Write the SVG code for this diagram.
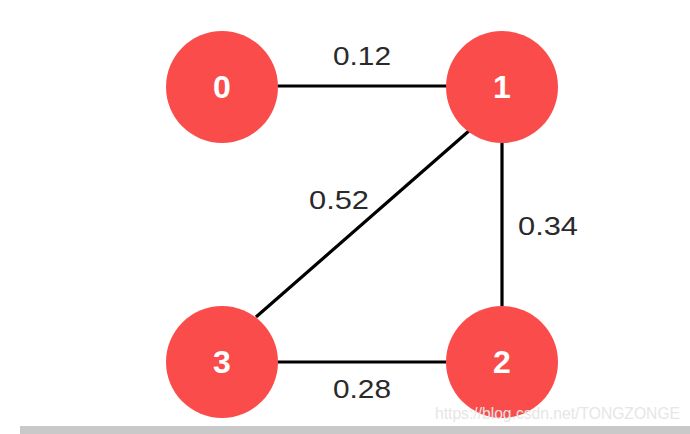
<svg xmlns="http://www.w3.org/2000/svg" width="690" height="434" viewBox="0 0 690 434">
<style>
.node{fill:#fb4c4c}
.nl{font-family:"Liberation Sans",Arial,sans-serif;font-weight:bold;font-size:32px;fill:#fff;text-anchor:middle}
.el{font-family:"Liberation Sans",Arial,sans-serif;font-size:26px;fill:#2a2a2a;text-anchor:middle}
.edge{stroke:#000;stroke-width:3.2;fill:none}
</style>
<rect width="690" height="434" fill="#fff"/>
<g id="connectors">
<line class="edge" x1="270" y1="86" x2="455" y2="86"/>
<line class="edge" x1="502" y1="130" x2="502" y2="318"/>
<line class="edge" x1="270" y1="362" x2="455" y2="362"/>
<line class="edge" x1="470" y1="130" x2="256" y2="317"/>
<text class="el" x="362" y="65" textLength="58" lengthAdjust="spacingAndGlyphs">0.12</text>
<text class="el" x="339" y="209" textLength="60" lengthAdjust="spacingAndGlyphs">0.52</text>
<text class="el" x="548" y="235" textLength="60" lengthAdjust="spacingAndGlyphs">0.34</text>
<text class="el" x="362" y="398" textLength="58" lengthAdjust="spacingAndGlyphs">0.28</text>
</g>
<g id="node0"><circle class="node" cx="222" cy="87" r="56"/><text class="nl" x="222" y="98">0</text></g>
<g id="node1"><circle class="node" cx="502" cy="87" r="56"/><text class="nl" x="502" y="98">1</text></g>
<g id="node2"><circle class="node" cx="502" cy="362" r="56"/><text class="nl" x="502" y="373">2</text></g>
<g id="node3"><circle class="node" cx="222" cy="362" r="56"/><text class="nl" x="222" y="373">3</text></g>
<text x="435" y="419" font-family="Liberation Sans,Arial,sans-serif" font-size="16" fill="#e6e6e6" textLength="245" lengthAdjust="spacingAndGlyphs">https://blog.csdn.net/TONGZONGE</text>
<rect x="20" y="426" width="670" height="8" fill="#c9c9c9"/>
</svg>
